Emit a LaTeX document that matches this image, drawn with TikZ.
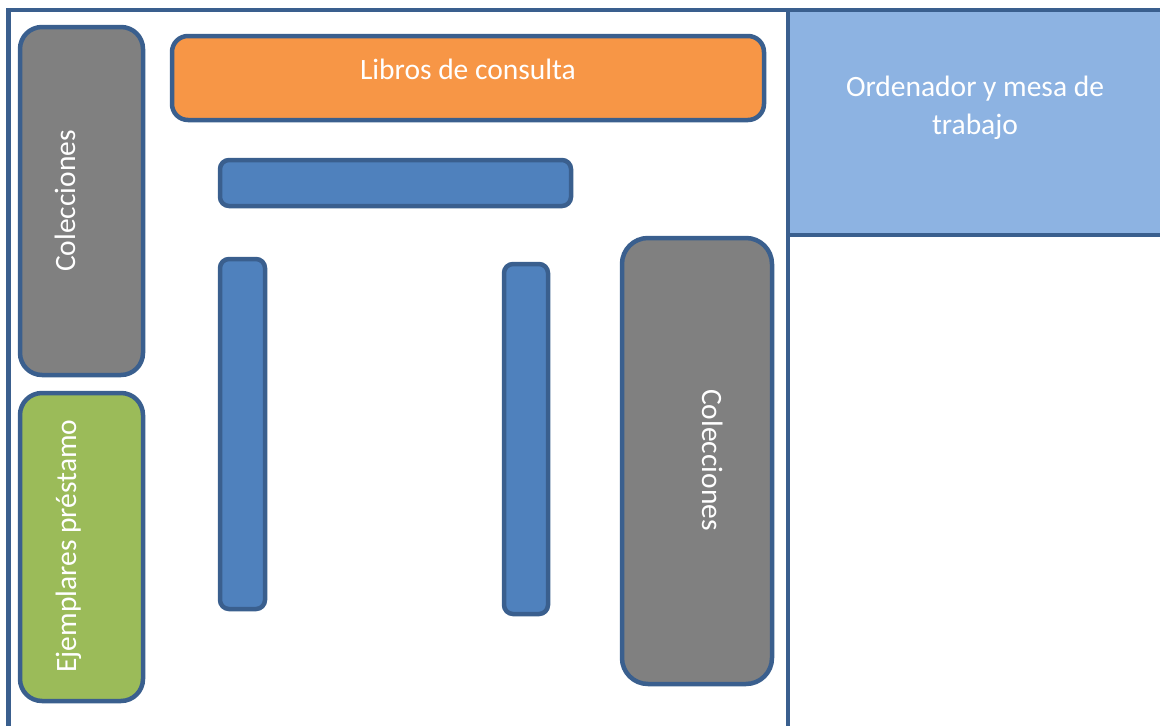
\documentclass[tikz,border=0pt]{standalone}
\usepackage{fontspec}
\setmainfont{Carlito}
\definecolor{edge}{HTML}{3A5F8E}
\definecolor{grayfill}{HTML}{808080}
\definecolor{orangefill}{HTML}{F79646}
\definecolor{greenfill}{HTML}{9BBB59}
\definecolor{bluefill}{HTML}{4F81BD}
\definecolor{lightblue}{HTML}{8DB3E2}
\tikzset{
  box/.style={draw=edge, line width=4.5pt, inner sep=0pt},
  lbl/.style={text=white, font=\fontsize{29.5}{38}\selectfont, inner sep=0pt, align=center},
  frameline/.style={draw=edge, line width=4.5pt}
}
\begin{document}
\begin{tikzpicture}[x=1pt,y=-1pt]
\useasboundingbox (0,0) rectangle (1160,726);
% right desk area
\fill[lightblue] (788,10) rectangle (1170,235);
\draw[frameline] (8.5,740) -- (8.5,10) -- (1170,10);
\draw[frameline] (788,10) -- (788,740);
\draw[frameline] (788,235) -- (1170,235);
\node[lbl, anchor=north] (ord) at (975,76) {Ordenador y mesa de\\trabajo};
% shapes
\node[box, fill=grayfill, rounded corners=22pt, minimum width=123pt, minimum height=348pt] (colL) at (81.5,201) {};
\node[lbl, rotate=90, anchor=base] (colLt) at (75,201) {Colecciones};
\node[box, fill=greenfill, rounded corners=22pt, minimum width=123pt, minimum height=308pt] (ejem) at (81.5,547) {};
\node[lbl, rotate=90, anchor=base] (ejemt) at (76,546) {Ejemplares préstamo};
\node[box, fill=orangefill, rounded corners=16pt, minimum width=592pt, minimum height=84pt] (libros) at (468,78) {};
\node[lbl, anchor=base] (librost) at (468,79) {Libros de consulta};
\node[box, fill=bluefill, rounded corners=9pt, minimum width=351pt, minimum height=46pt] (bh) at (395.5,183) {};
\node[box, fill=bluefill, rounded corners=9pt, minimum width=45pt, minimum height=350pt] (bv1) at (242.5,434) {};
\node[box, fill=bluefill, rounded corners=9pt, minimum width=44pt, minimum height=350pt] (bv2) at (526,439) {};
\node[box, fill=grayfill, rounded corners=26pt, minimum width=150pt, minimum height=446pt] (colR) at (697,461) {};
\node[lbl, rotate=-90, anchor=base] (colRt) at (702,460) {Colecciones};
\end{tikzpicture}
\end{document}
